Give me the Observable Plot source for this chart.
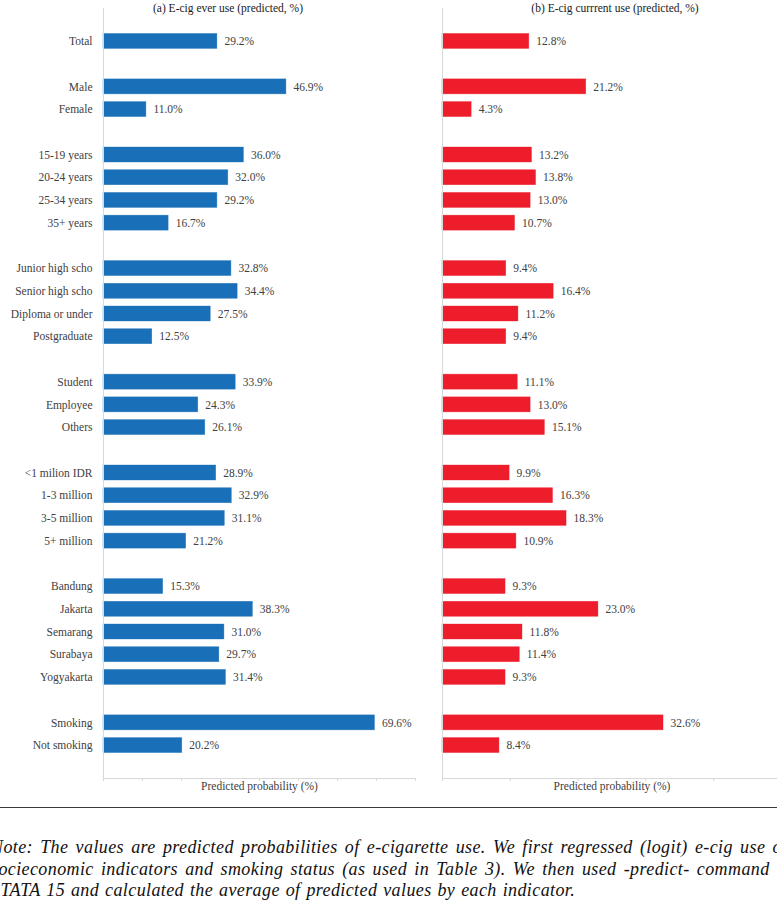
<!DOCTYPE html>
<html>
<head>
<meta charset="utf-8">
<script src="https://cdn.jsdelivr.net/npm/d3@7"></script>
<script src="https://cdn.jsdelivr.net/npm/@observablehq/plot@0.6"></script>
<style>
  html, body { margin: 0; padding: 0; background: #fff; overflow: hidden; }
  #page { position: relative; width: 777px; height: 904px; overflow: hidden; font-family: "Liberation Serif", "Times New Roman", serif; }
  .panel { position: absolute; top: 0; }
  .panel svg { max-width: none !important; }
  .ptitle { position: absolute; top: 2px; font-size: 11.5px; color: #1a1a1a; white-space: nowrap; transform: translateX(-50%); }
  #rule { position: absolute; left: 0; top: 807px; width: 777px; height: 0; border-top: 1.6px solid #3a3a3a; }
  .note { position: absolute; left: -9px; white-space: nowrap; font-style: italic; font-size: 18px; letter-spacing: 0.4px; word-spacing: 1px; color: #111; line-height: 21.5px; }
  .note.just { word-spacing: 2.3px; }
</style>
</head>
<body>
<div id="page">
  <div id="left" class="panel" style="left:0; width:420px"></div>
  <div id="right" class="panel" style="left:420px; width:362px"></div>
  <div class="ptitle" style="left:228px">(a) E-cig ever use (predicted, %)</div>
  <div class="ptitle" style="left:615px">(b) E-cig currrent use (predicted, %)</div>
  <div id="rule"></div>
  <div class="note just" style="top:837px">Note: The values are predicted probabilities of e-cigarette use. We first regressed (logit) e-cig use on</div>
  <div class="note just" style="top:858.5px">socieconomic indicators and smoking status (as used in Table 3). We then used -predict- command in</div>
  <div class="note" style="top:880px">STATA 15 and calculated the average of predicted values by each indicator.</div>
</div>
<script>
// Category groups (blank rows separate the groups)
const groupTotal = ["Total"];
const groupSex = ["Male", "Female"];
const groupAge = ["15-19 years", "20-24 years", "25-34 years", "35+ years"];
const groupEdu = ["Junior high scho", "Senior high scho", "Diploma or under", "Postgraduate"];
const groupJob = ["Student", "Employee", "Others"];
const groupIncome = ["<1 milion IDR", "1-3 million", "3-5 million", "5+ million"];
const groupCity = ["Bandung", "Jakarta", "Semarang", "Surabaya", "Yogyakarta"];
const groupSmoke = ["Smoking", "Not smoking"];

// Predicted probabilities (%)
const everUse = [29.2, 46.9, 11.0, 36.0, 32.0, 29.2, 16.7, 32.8, 34.4, 27.5, 12.5, 33.9, 24.3, 26.1, 28.9, 32.9, 31.1, 21.2, 15.3, 38.3, 31.0, 29.7, 31.4, 69.6, 20.2];
const currentUse = [12.8, 21.2, 4.3, 13.2, 13.8, 13.0, 10.7, 9.4, 16.4, 11.2, 9.4, 11.1, 13.0, 15.1, 9.9, 16.3, 18.3, 10.9, 9.3, 23.0, 11.8, 11.4, 9.3, 32.6, 8.4];

const groups = [groupTotal, groupSex, groupAge, groupEdu, groupJob, groupIncome, groupCity, groupSmoke];
const categories = groups.flat();
const domain = [];
groups.forEach((g, i) => { if (i > 0) domain.push(" ".repeat(i)); domain.push(...g); });

const everData = categories.map((c, i) => ({category: c, value: everUse[i]}));
const currData = categories.map((c, i) => ({category: c, value: currentUse[i]}));

const axisGray = "#d9d9d9";
const textGray = "#404040";
const font = "'Liberation Serif', 'Times New Roman', serif";

function panel({data, color, width, marginLeft, marginRight, xmax, yLabels}) {
  const marks = [
    Plot.barX(data, {y: "category", x: "value", fill: color, stroke: color, strokeOpacity: 0.6, strokeWidth: 0.6}),
    Plot.text(data, {y: "category", x: "value", text: d => d.value.toFixed(1) + "%", textAnchor: "start", dx: 7, fill: textGray, fontSize: 11.5}),
    Plot.ruleX([0], {stroke: axisGray, strokeWidth: 1}),
    Plot.frame({anchor: "bottom", stroke: axisGray, strokeWidth: 1}),
    Plot.axisX({ticks: d3.range(0, xmax + 1, 10), tickFormat: () => "", tickSize: 3, stroke: axisGray, label: "Predicted probability (%)", labelAnchor: "center", labelArrow: "none", labelOffset: 11, fill: textGray, fontSize: 11.5})
  ];
  if (yLabels) marks.push(Plot.axisY({tickSize: 0, tickPadding: 11, fill: textGray, fontSize: 11.5, label: null}));
  return Plot.plot({
    width, height: 800,
    marginLeft, marginRight, marginTop: 8, marginBottom: 22,
    style: {fontFamily: font, fontSize: "11.5px", background: "transparent", overflow: "visible", maxWidth: "none"},
    x: {domain: [0, xmax], axis: null},
    y: {domain, paddingInner: 0.34, paddingOuter: 1.12, round: false, axis: null},
    marks
  });
}

document.getElementById("left").append(panel({data: everData, color: "#1a70b8", width: 420, marginLeft: 103, marginRight: 5, xmax: 80, yLabels: true}));
document.getElementById("right").append(panel({data: currData, color: "#ee1d2c", width: 362, marginLeft: 22, marginRight: 1, xmax: 50, yLabels: false}));
</script>
</body>
</html>
